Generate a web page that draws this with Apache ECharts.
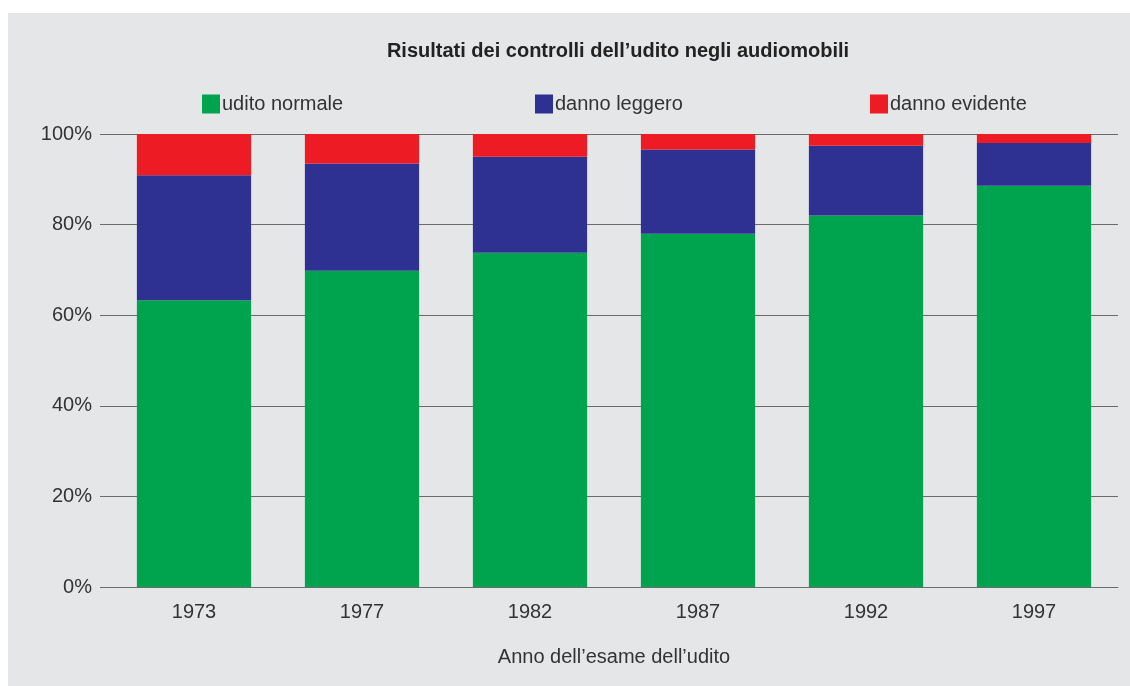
<!DOCTYPE html>
<html><head><meta charset="utf-8">
<script src="https://cdn.jsdelivr.net/npm/echarts@6/dist/echarts.min.js"></script>
<style>
html,body{margin:0;padding:0;background:#fff;width:1130px;height:686px;overflow:hidden;}
#panel{position:absolute;left:8px;top:13px;width:1122px;height:673px;background:#e5e6e8;}
#c{position:absolute;left:0;top:0;width:1130px;height:686px;}
</style></head>
<body><div id="panel"></div><div id="c"></div>
<script>
const categories = ['1973','1977','1982','1987','1992','1997'];
const uditoNormale = [63.3, 69.8, 73.8, 78.0, 82.0, 88.6];
const dannoLeggero = [27.6, 23.7, 21.2, 18.6, 15.4, 9.4];
const dannoEvidente = [9.1, 6.5, 5.0, 3.4, 2.6, 2.0];
const yTicks = [0, 20, 40, 60, 80, 100];

const font = 'Liberation Sans';
const chart = echarts.init(document.getElementById('c'), null, {renderer:'canvas'});
function leg(name, left){
  return {data:[name], left:left, top:94, padding:0, itemWidth:18, itemHeight:19, icon:'rect', itemGap:0,
    textStyle:{fontFamily:font, fontSize:20, color:'#333', padding:[0,0,0,-3]}, selectedMode:false};
}
chart.setOption({
  animation:false,
  backgroundColor:'transparent',
  title:{text:"Risultati dei controlli dell\u2019udito negli audiomobili", left:613, textAlign:'center', top:36,
    textStyle:{fontFamily:font, fontSize:20, fontWeight:'bold', color:'#222'}},
  legend:[leg('udito normale',202), leg('danno leggero',535), leg('danno evidente',870)],
  grid:{left:110, right:12, top:134, bottom:99, containLabel:false},
  xAxis:{type:'category', data:categories,
    axisLine:{show:true, lineStyle:{color:'#6b6b6b', width:1}},
    axisTick:{show:false},
    axisLabel:{fontFamily:font, fontSize:20, color:'#333', margin:15},
    name:"Anno dell\u2019esame dell\u2019udito", nameLocation:'middle', nameGap:60,
    nameTextStyle:{fontFamily:font, fontSize:20, color:'#333'}},
  yAxis:{type:'value', min:0, max:100, interval:20,
    axisLine:{show:false},
    axisTick:{show:true, length:10, lineStyle:{color:'#6b6b6b', width:1}},
    splitLine:{show:true, lineStyle:{color:'#6b6b6b', width:1}},
    axisLabel:{fontFamily:font, fontSize:20, color:'#333', margin:18,
      formatter:v => yTicks.includes(v) ? v + '%' : ''}},
  series:[
    {name:'udito normale', type:'bar', stack:'a', data:uditoNormale, barCategoryGap:'32%', itemStyle:{color:'#00a44f'}},
    {name:'danno leggero', type:'bar', stack:'a', data:dannoLeggero, itemStyle:{color:'#2e3192'}},
    {name:'danno evidente', type:'bar', stack:'a', data:dannoEvidente, itemStyle:{color:'#ed1c24'}}
  ]
});
</script></body></html>
